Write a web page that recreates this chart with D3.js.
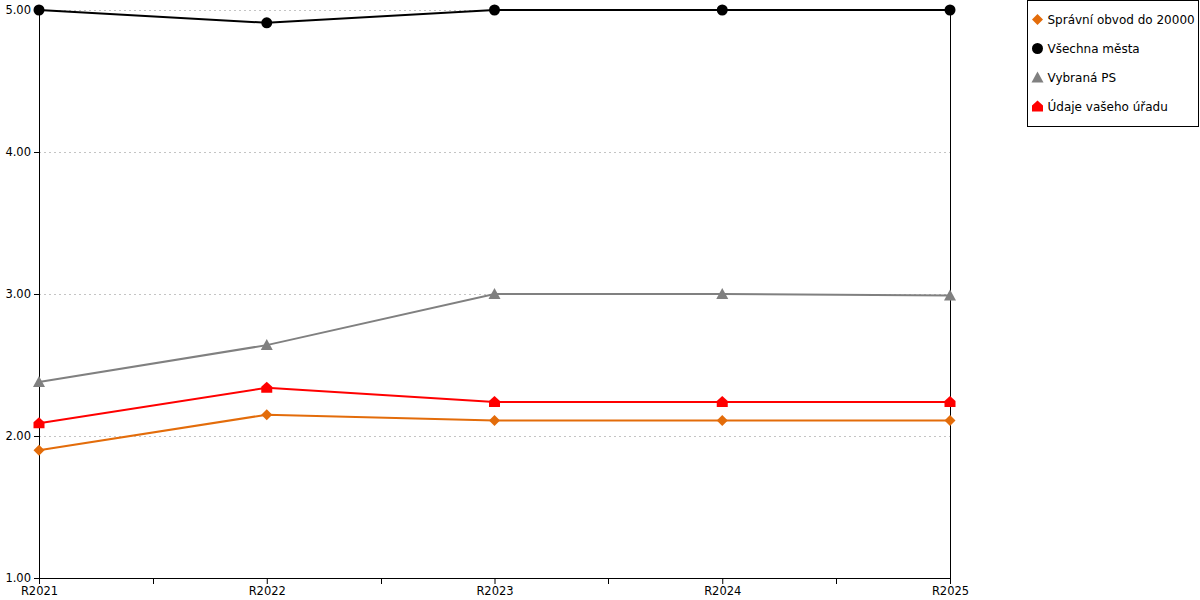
<!DOCTYPE html>
<html>
<head>
<meta charset="utf-8">
<script src="https://cdn.jsdelivr.net/npm/d3@7"></script>
<style>
  body { margin: 0; background: #fff; }
  text { font-family: "DejaVu Sans", Verdana, sans-serif; fill: #000; }
</style>
</head>
<body>
<svg id="chart" width="1200" height="600"></svg>
<script>
// chart data
const categories = ['R2021', 'R2022', 'R2023', 'R2024', 'R2025'];
const yTicks = [1, 2, 3, 4, 5];

const spravniObvod = [1.90, 2.15, 2.11, 2.11, 2.11];
const vsechnaMesta = [5.00, 4.91, 5.00, 5.00, 5.00];
const vybranaPS = [2.38, 2.64, 3.00, 3.00, 2.99];
const udajeUradu = [2.09, 2.34, 2.24, 2.24, 2.24];

const seriesNames = ['Správní obvod do 20000', 'Všechna města', 'Vybraná PS', 'Údaje vašeho úřadu'];

const series = [
  {name: seriesNames[0], values: spravniObvod, color: '#e36c0a', marker: 'diamond'},
  {name: seriesNames[1], values: vsechnaMesta, color: '#000000', marker: 'circle'},
  {name: seriesNames[2], values: vybranaPS, color: '#808080', marker: 'triangle'},
  {name: seriesNames[3], values: udajeUradu, color: '#ff0000', marker: 'house'}
];

const svg = d3.select('#chart');
const margin = {left: 39, right: 250, top: 10, bottom: 22};
const W = 1200, H = 600;
const fontSize = 11.5;

const x = d3.scalePoint()
  .domain(categories)
  .range([margin.left, W - margin.right]);

const y = d3.scaleLinear()
  .domain([1, 5])
  .range([H - margin.bottom, margin.top]);

// marker shapes
function markerPath(type) {
  if (type === 'diamond') return 'M0,-5.5 L5.5,0 L0,5.5 L-5.5,0 Z';
  if (type === 'circle') return d3.symbol(d3.symbolCircle, 95)();
  if (type === 'triangle') return 'M0,-6 L6,5 L-6,5 Z';
  // house: square with a roof
  return 'M-5.5,5 L5.5,5 L5.5,-1 L0,-6 L-5.5,-1 Z';
}

// grid
svg.append('g')
  .attr('class', 'grid')
  .selectAll('line')
  .data(yTicks.slice(1))
  .join('line')
    .attr('x1', x.range()[0])
    .attr('x2', x.range()[1])
    .attr('y1', d => y(d) + 0.5)
    .attr('y2', d => y(d) + 0.5)
    .attr('stroke', '#c4c4c4')
    .attr('stroke-width', 1)
    .attr('stroke-dasharray', '2,3');

// y axis
svg.append('g')
  .attr('class', 'y-axis')
  .attr('transform', `translate(${margin.left},0)`)
  .call(d3.axisLeft(y).tickValues(yTicks).tickFormat(d3.format('.2f')).tickSize(5).tickPadding(3))
  .call(g => g.selectAll('.domain').attr('stroke', '#000'))
  .call(g => g.selectAll('.tick line').attr('stroke', '#000'))
  .call(g => g.selectAll('.tick text').attr('font-size', fontSize).attr('font-family', '"DejaVu Sans", Verdana, sans-serif'));

// right border line
svg.append('line')
  .attr('x1', x.range()[1] + 0.5).attr('x2', x.range()[1] + 0.5)
  .attr('y1', y(5)).attr('y2', y(1))
  .attr('stroke', '#000');

// x axis
const step = x.step();
const minorTicks = d3.range(categories.length - 1).map(i => x(categories[i]) + step / 2);

const xAxis = svg.append('g')
  .attr('class', 'x-axis')
  .attr('transform', `translate(0,${y(1)})`)
  .call(d3.axisBottom(x).tickSize(6).tickPadding(3).tickSizeOuter(0))
  .call(g => g.selectAll('.domain').attr('stroke', '#000'))
  .call(g => g.selectAll('.tick line').attr('stroke', '#000'))
  .call(g => g.selectAll('.tick text').attr('font-size', fontSize).attr('font-family', '"DejaVu Sans", Verdana, sans-serif'));

xAxis.selectAll('line.minor')
  .data(minorTicks)
  .join('line')
    .attr('class', 'minor')
    .attr('x1', d => Math.round(d) + 0.5).attr('x2', d => Math.round(d) + 0.5)
    .attr('y1', 0).attr('y2', 6)
    .attr('stroke', '#000');

// lines and markers
const line = d3.line()
  .x((d, i) => x(categories[i]))
  .y(d => y(d));

const sg = svg.selectAll('g.series')
  .data(series)
  .join('g')
    .attr('class', 'series');

sg.append('path')
  .attr('d', d => line(d.values))
  .attr('fill', 'none')
  .attr('stroke', d => d.color)
  .attr('stroke-width', 2);

sg.each(function(s) {
  d3.select(this).selectAll('path.marker')
    .data(s.values)
    .join('path')
      .attr('class', 'marker')
      .attr('d', markerPath(s.marker))
      .attr('transform', (d, i) => `translate(${x(categories[i])},${y(d)})`)
      .attr('fill', s.color);
});

// legend
const legend = svg.append('g')
  .attr('class', 'legend')
  .attr('transform', 'translate(1027.5,0.5)');

legend.append('rect')
  .attr('width', 171)
  .attr('height', 126)
  .attr('fill', '#fff')
  .attr('stroke', '#000');

const li = legend.selectAll('g.item')
  .data(series)
  .join('g')
    .attr('class', 'item')
    .attr('transform', (d, i) => `translate(0,${19 + i * 29})`);

li.append('path')
  .attr('d', d => markerPath(d.marker))
  .attr('transform', 'translate(10,0)')
  .attr('fill', d => d.color);

li.append('text')
  .attr('x', 20)
  .attr('dy', '0.35em')
  .attr('font-size', fontSize + 0.5)
  .text(d => d.name);
</script>
</body>
</html>
